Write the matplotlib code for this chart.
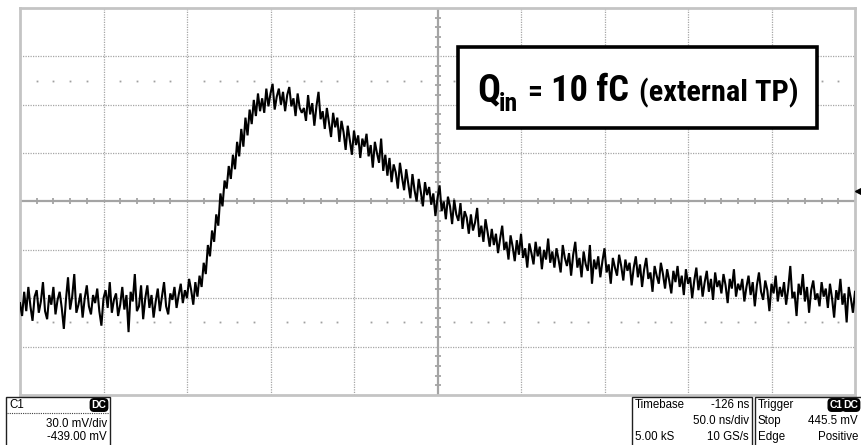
import numpy as np
import matplotlib
matplotlib.use("Agg")
import matplotlib.pyplot as plt
from matplotlib.patches import Rectangle

W, H = 861, 445

# Channel 1 record (mV), in acquisition order
baseline_mv = [
    376, 368, 383, 371, 386, 374, 365, 380, 384, 370,
    377, 389, 371, 366, 381, 375, 386, 369, 378, 383,
    373, 360, 378, 392, 372, 380, 394, 370, 375, 382,
    367, 379, 387, 374, 369, 381, 376, 385, 371, 362,
    379, 384, 373, 389, 370, 378, 382, 368, 375, 386,
    372, 381, 358, 383, 377, 394, 371, 374, 387, 366,
    379, 387, 373, 381, 367, 377, 385, 371, 380, 389,
    374, 369, 382, 378, 386, 373, 381, 388, 376, 384,
    379, 391,
]
rise_mv = [
    384, 375, 389, 380, 393, 386, 401, 394, 412, 405,
    421, 414, 431, 424, 444, 436, 452, 447, 461, 453,
    468, 459, 476, 467, 484, 473, 491, 480, 496, 487,
    502, 492, 506, 495,
]
peak_mv = [
    503, 494, 509, 498, 506, 512, 496, 504, 509, 499,
    507, 495, 505, 510, 498, 503, 492, 506, 497, 494,
]
decay_mv = [
    497, 489, 505, 493, 500, 486, 498, 507, 490, 495,
    484, 497, 488, 479, 494, 485, 491, 476, 489, 482,
    471, 486, 477, 468, 483, 474, 480, 466, 478, 473,
    481, 467, 474, 460, 476, 469, 463, 478, 458, 468,
    455, 466, 451, 462, 457, 447, 463, 454, 446, 459,
    450, 441, 456, 446, 439, 453, 445, 436, 451, 443,
    448, 437, 444, 430, 441, 449, 433, 439, 428, 442,
    436, 425, 440, 431, 427, 438, 422, 433, 429, 419,
    431, 421, 426, 435, 417, 424, 414, 428, 420, 411,
    422, 412, 419, 407, 416, 424, 409, 414, 403, 418,
    411, 402, 415, 406, 419, 404, 410, 398, 413, 407,
    400, 414, 405, 411, 397, 409, 403, 416, 401, 408,
    398, 410, 403, 395, 412, 404, 399, 407, 393, 406,
    414, 398, 404, 392, 408, 400, 396, 412, 388, 403,
    397, 405, 392, 402, 410, 395, 400, 388, 404, 398,
    393, 406, 399, 390, 403, 396, 401, 387, 398, 405,
    392, 400, 386, 397, 404, 391, 395, 383, 399, 393,
    388, 401, 394, 385, 397, 390, 382, 396, 389, 399,
    386, 393, 381, 397, 388, 392, 379, 390, 398, 384,
    393, 380, 389, 396, 383, 391, 378, 395, 386, 390,
    382, 394, 387, 376, 391, 385, 397, 380, 388, 384,
    391, 377, 386, 393, 381, 389, 374, 387, 395, 383,
    378, 390, 384, 371, 388, 382, 393, 377, 386, 380,
    389, 375, 385, 399, 379, 383, 368, 388, 381, 394,
    377, 386, 370, 384, 390, 378, 382, 374, 389, 380,
    385, 373, 388, 379, 367, 384, 378, 391, 375, 382,
    364, 386, 379, 370, 383,
]

# Scope settings
volts_per_div = 30.0      # mV/div
offset_mv = 439.0         # centre of screen
time_per_div = 50.0       # ns/div
delay_ns = -126.0         # centre of screen
trigger_level_mv = 445.5

samples = np.array(baseline_mv + rise_mv + peak_mv + decay_mv, dtype=float)
t0 = delay_ns - 5 * time_per_div
t1 = delay_ns + 5 * time_per_div
v0 = offset_mv - 4 * volts_per_div
v1 = offset_mv + 4 * volts_per_div
t = np.linspace(t0, t1, len(samples))


def fx(px):
    return px / W


def fy(py):
    return 1 - py / H


fig = plt.figure(figsize=(W / 100, H / 100), dpi=100)
fig.patch.set_facecolor("white")
renderer = fig.canvas.get_renderer()

# Graticule area
ax = fig.add_axes([fx(20), fy(395), (855 - 20) / W, (395 - 8) / H])
ax.set_xlim(t0, t1)
ax.set_ylim(v0, v1)
ax.set_xticks([])
ax.set_yticks([])
for s in ax.spines.values():
    s.set_color("#c4c4c4")
    s.set_linewidth(2.0)

grid_kw = dict(color="#a6a6a6", lw=0.9, ls=(0, (1, 1)), zorder=1)
for k in range(1, 10):
    if k != 5:
        ax.axvline(t0 + k * time_per_div, **grid_kw)
for k in range(1, 8):
    if k != 4:
        ax.axhline(v0 + k * volts_per_div, **grid_kw)

# Centre axes with minor ticks
axis_col = "#a4a4a4"
ax.axvline(delay_ns, color=axis_col, lw=1.6, zorder=2)
ax.axhline(offset_mv, color=axis_col, lw=1.6, zorder=2)
minor_t = np.array([t0 + k * time_per_div / 5 for k in range(1, 50) if k % 5])
minor_v = np.array([v0 + k * volts_per_div / 5 for k in range(1, 40) if k % 5])
ax.plot(minor_t, np.full_like(minor_t, offset_mv), ls="none", marker="|",
        ms=4.5, mew=1.3, color=axis_col, zorder=2)
ax.plot(np.full_like(minor_v, delay_ns), minor_v, ls="none", marker="_",
        ms=5.0, mew=1.3, color=axis_col, zorder=2)

# Dot rows at +/-2.5 div
for lvl in (offset_mv + 2.5 * volts_per_div, offset_mv - 2.5 * volts_per_div):
    ax.plot(minor_t, np.full_like(minor_t, lvl), ls="none", marker="s",
            ms=1.3, mew=0, color="#a0a0a0", zorder=2)

# Trace
ax.plot(t, samples, color="black", lw=1.5, zorder=5, solid_joinstyle="miter")

# Trigger level marker just outside the right edge
ax.plot([t1 + 2.0], [trigger_level_mv], marker="<", ms=4, color="black",
        clip_on=False, zorder=6)

# Annotation box
fig.add_artist(Rectangle((fx(458), fy(128)), (817 - 458) / W, (128 - 47) / H,
                         transform=fig.transFigure, facecolor="white",
                         edgecolor="black", lw=2.6, zorder=10))
label_font = ["Roboto Condensed", "Roboto"]


def fitted_text(x_left, x_right, base_y, s, size):
    """Place bold label text so that it spans x_left..x_right pixels."""
    txt = fig.text(fx(x_left), fy(base_y), s, fontsize=size,
                   fontweight="bold", family=label_font, va="baseline",
                   ha="left", zorder=11)
    width = txt.get_window_extent(renderer).width
    txt.set_fontsize(size * (x_right - x_left) / width)
    return txt


fitted_text(477, 500, 101, "Q", 28)
fitted_text(499, 518, 111, "in", 18)
fitted_text(527, 542, 101, "=", 28)
fitted_text(551, 629, 101, "10 fC", 28)
fitted_text(639, 798, 101, "(external TP)", 22)

# Status panels
info_font = ["Liberation Sans", "DejaVu Sans"]
info_kw = dict(fontsize=8.3, family=info_font, va="center", zorder=11)


def panel(x0, x1, y0=397, y1=446):
    fig.add_artist(Rectangle((fx(x0), fy(y1)), (x1 - x0) / W, (y1 - y0) / H,
                             transform=fig.transFigure, facecolor="white",
                             edgecolor="#202020", lw=1.0, zorder=10))


def badge(x, y, s):
    fig.text(fx(x), fy(y), s, fontsize=7.5, fontweight="bold", color="white",
             family=info_font, ha="center", va="center", zorder=12,
             bbox=dict(boxstyle="round,pad=0.12,rounding_size=0.35",
                       fc="black", ec="black"))


panel(6, 110)
fig.add_artist(plt.Line2D([fx(7), fx(109)], [fy(413), fy(413)],
                          transform=fig.transFigure, color="#404040",
                          lw=0.8, ls=(0, (1, 1)), zorder=11))
fig.text(fx(9), fy(405), "C1", ha="left", **info_kw)
badge(99, 405, "DC")
fig.text(fx(107), fy(424), "30.0 mV/div", ha="right", **info_kw)
fig.text(fx(107), fy(437), "-439.00 mV", ha="right", **info_kw)

panel(632, 752)
fig.text(fx(635), fy(405), "Timebase", ha="left", **info_kw)
fig.text(fx(749), fy(405), "-126 ns", ha="right", **info_kw)
fig.text(fx(749), fy(421), "50.0 ns/div", ha="right", **info_kw)
fig.text(fx(635), fy(437), "5.00 kS", ha="left", **info_kw)
fig.text(fx(749), fy(437), "10 GS/s", ha="right", **info_kw)

panel(755, 862)
fig.text(fx(758), fy(405), "Trigger", ha="left", **info_kw)
badge(836, 405, "C1")
badge(851, 405, "DC")
fig.text(fx(758), fy(421), "Stop", ha="left", **info_kw)
fig.text(fx(858), fy(421), "445.5 mV", ha="right", **info_kw)
fig.text(fx(758), fy(437), "Edge", ha="left", **info_kw)
fig.text(fx(858), fy(437), "Positive", ha="right", **info_kw)

fig.savefig("out.png", dpi=100, facecolor="white")
